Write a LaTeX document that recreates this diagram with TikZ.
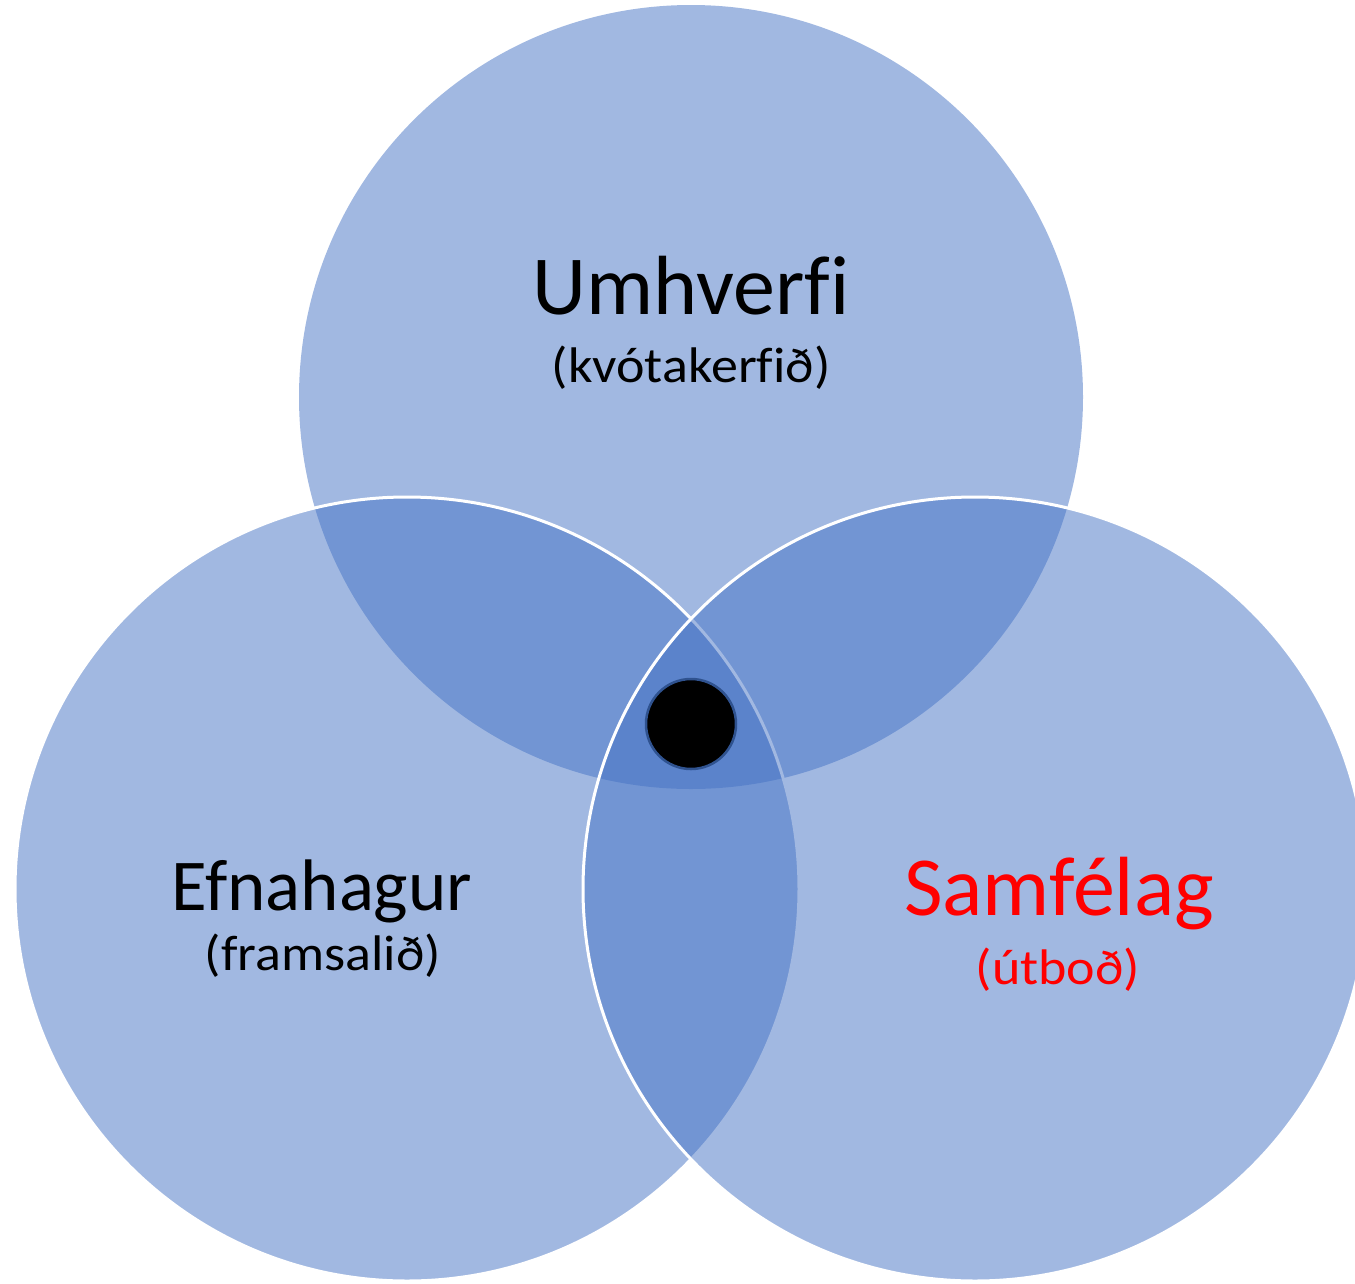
\documentclass[tikz,border=0pt]{standalone}
\usepackage{fontspec}
\setmainfont{Carlito}[Ligatures=CommonOff]
\newfontfamily\subfont{Carlito}[Ligatures=CommonOff,FakeStretch=1.08]
\definecolor{setblue}{HTML}{4472C4}
\definecolor{dotedge}{HTML}{2F528F}
\definecolor{samred}{HTML}{FF0000}
\begin{document}
\begin{tikzpicture}[x=1pt,y=-1pt,
    set/.style={fill=setblue,fill opacity=0.5},
    rim/.style={draw=white,line width=3pt},
    title/.style={anchor=base,inner sep=0pt,font=\fontsize{#1}{#1}\selectfont},
    title/.default=84,
    subtitle/.style={anchor=base,inner sep=0pt,font=\subfont\fontsize{50}{50}\selectfont}]
  \useasboundingbox (0,0) rectangle (1355,1283);
  % the three sets
  \coordinate (umhverfi) at (691,397);
  \coordinate (efnahagur) at (407,889);
  \coordinate (samfelag) at (975,889);
  \fill[set] (umhverfi) circle (392pt);
  \path[set,rim] (efnahagur) circle (392pt);
  \path[set,rim] (samfelag) circle (392pt);
  \node[circle,fill=black,draw=dotedge,line width=2.5pt,minimum size=90pt,inner sep=0pt] (kjarni) at (691,724) {};
  % labels
  \node[title] (umhverfiname) at (691,314) {Umhverfi};
  \node[subtitle] (umhverfisub) at (691,382) {(kvótakerfið)};
  \node[title=73] (efnahagurname) at (322,910) {Efnahagur};
  \node[subtitle] (efnahagursub) at (323,970) {(framsalið)};
  \node[title,text=samred] (samfelagname) at (1059,915) {Samfélag};
  \node[subtitle,text=samred] (samfelagsub) at (1058,984) {(útboð)};
\end{tikzpicture}
\end{document}
